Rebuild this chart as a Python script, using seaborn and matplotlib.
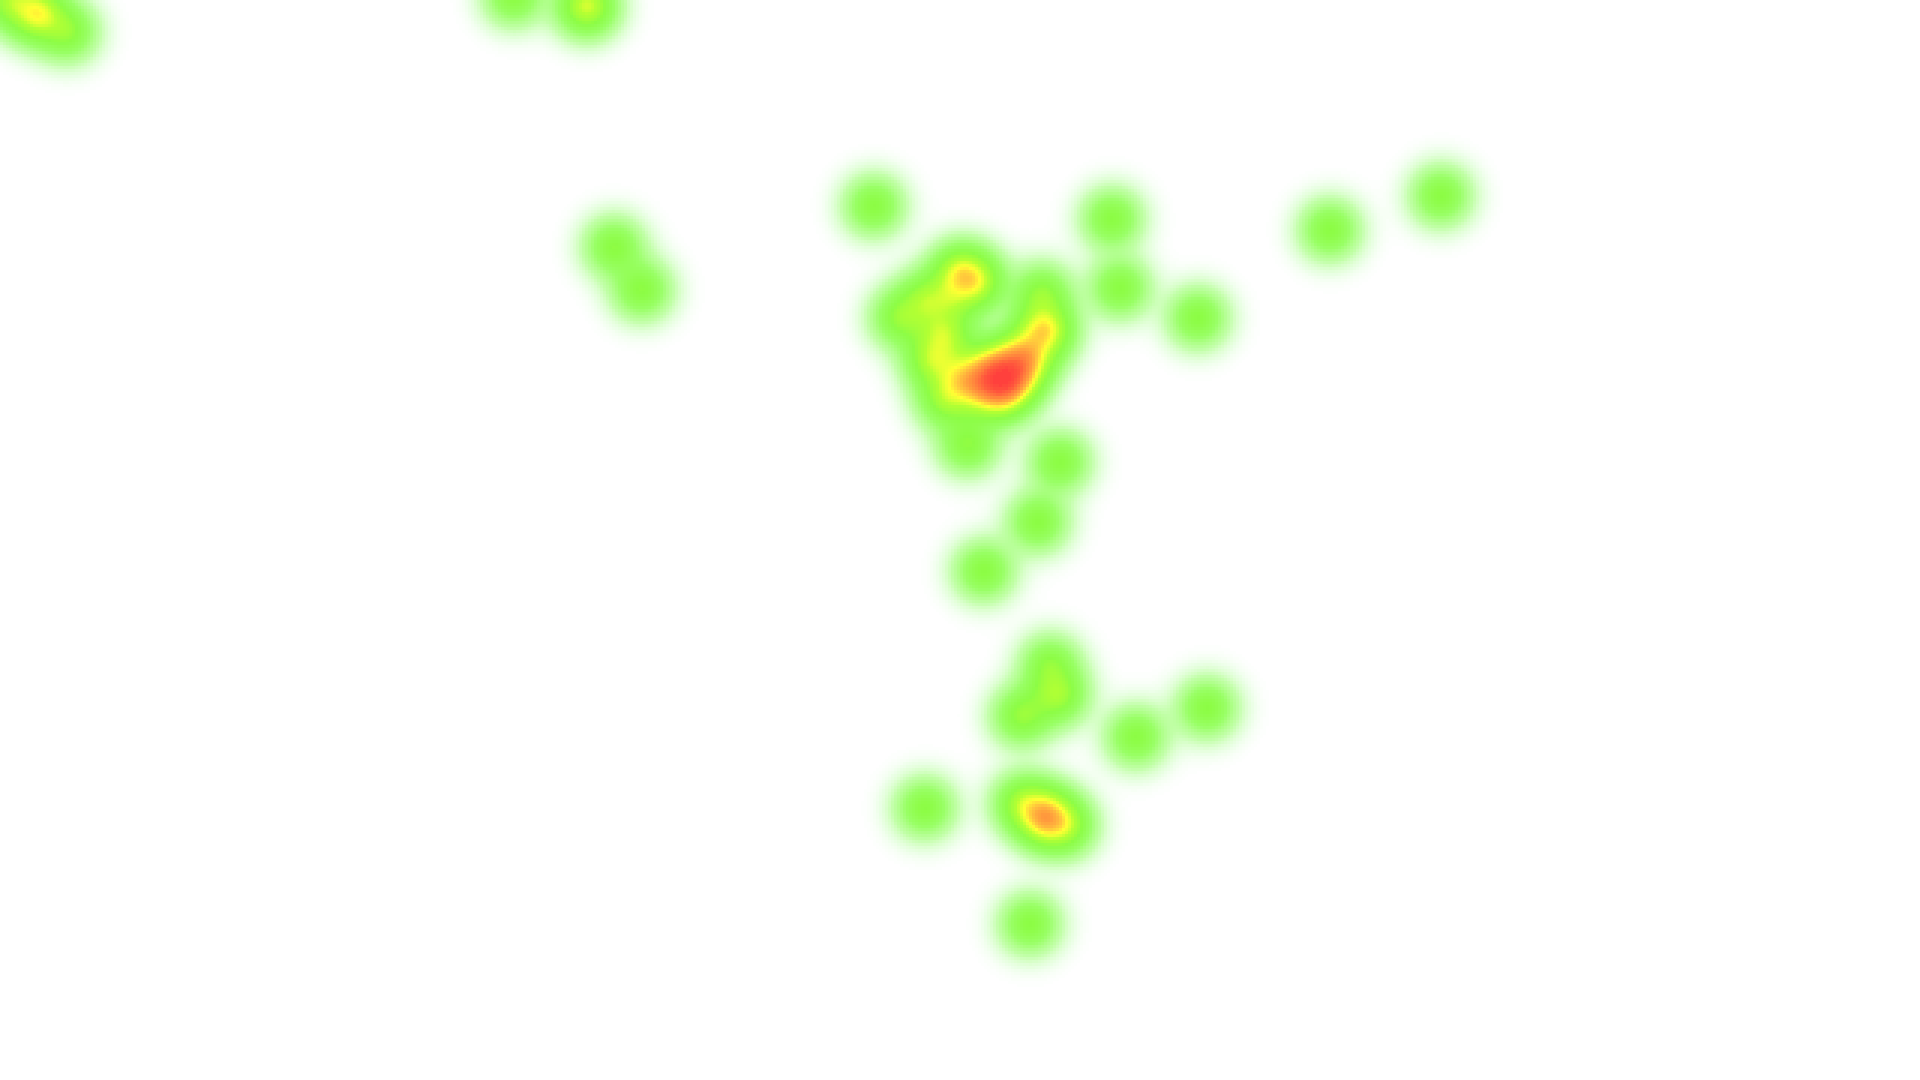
#!/usr/bin/env python3
# -*- coding: utf-8 -*-
"""Point-density heat map (leaflet-heat look) on a plain white canvas."""

import numpy as np
import matplotlib
matplotlib.use("Agg")
import matplotlib.pyplot as plt
from matplotlib.colors import LinearSegmentedColormap
import seaborn as sns

# Event locations in canvas units (0..1920 across, 0..1080 down) and counts.
pt_x = [10, 38, 68, 514, 587, 614, 642,
        874, 1112, 1330, 1441, 1120, 1198,
        960, 976, 900, 925, 932, 945, 968, 945, 950,
        1005, 985, 1025, 1045, 962, 1042, 992, 1002, 1015,
        1060, 1038, 984,
        1050, 1022, 1058, 1136, 1207, 925,
        1045, 1022, 1066, 1030]
pt_y = [0, 14, 32, -4, 6, 247, 290,
        206, 219, 230, 196, 288, 318,
        272, 282, 318, 300, 360, 400, 445, 335, 300,
        380, 385, 358, 330, 380, 293, 370, 396, 372,
        462, 522, 571,
        664, 716, 695, 737, 708, 808,
        817, 803, 826, 924]
pt_count = [1.2, 1.8, 1.0, 1.0, 1.8, 1.0, 1.0,
            1.0, 1.0, 1.0, 1.0, 1.0, 1.0,
            1.4, 1.4, 1.0, 1.0, 1.2, 1.0, 1.0, 1.2, 0.6,
            2.4, 1.4, 1.8, 2.0, 1.2, 1.0, 1.0, 0.8, 1.0,
            1.0, 1.0, 1.0,
            0.9, 1.1, 1.2, 1.0, 1.0, 1.0,
            2.4, 1.1, 1.1, 1.0]

WIDTH, HEIGHT = 1920, 1080
STEP = 3            # grid cell size in canvas units
SIGMA = 20.0        # blur of one point
POINT_ALPHA = 0.55  # opacity of a single point at its centre

# accumulated opacity -> colour (already blended over white)
stops = [
    (0.00, (1.00, 1.00, 1.00)),
    (0.04, (0.92, 1.00, 0.90)),
    (0.15, (0.76, 1.00, 0.66)),
    (0.35, (0.60, 1.00, 0.40)),
    (0.55, (0.55, 0.99, 0.27)),
    (0.72, (0.70, 1.00, 0.20)),
    (0.82, (1.00, 1.00, 0.20)),
    (0.88, (1.00, 0.76, 0.24)),
    (0.95, (1.00, 0.50, 0.24)),
    (0.99, (1.00, 0.24, 0.24)),
    (1.00, (1.00, 0.20, 0.24)),
]
cmap = LinearSegmentedColormap.from_list("heat", stops)

gx = np.arange(0, WIDTH, STEP) + STEP / 2
gy = np.arange(0, HEIGHT, STEP) + STEP / 2
XX, YY = np.meshgrid(gx, gy)
log_clear = np.zeros_like(XX)
for x, y, n in zip(pt_x, pt_y, pt_count):
    k = np.exp(-((XX - x) ** 2 + (YY - y) ** 2) / (2 * SIGMA ** 2))
    log_clear += n * np.log1p(-POINT_ALPHA * k)
opacity = 1.0 - np.exp(log_clear)

sns.set_style("white")
fig = plt.figure(figsize=(19.2, 10.8), dpi=100)
ax = fig.add_axes([0, 0, 1, 1])
sns.heatmap(opacity, ax=ax, cmap=cmap, vmin=0, vmax=1, cbar=False,
            xticklabels=False, yticklabels=False, rasterized=True)
ax.set_axis_off()
fig.savefig("out.png", dpi=100, facecolor="white")
plt.close(fig)
